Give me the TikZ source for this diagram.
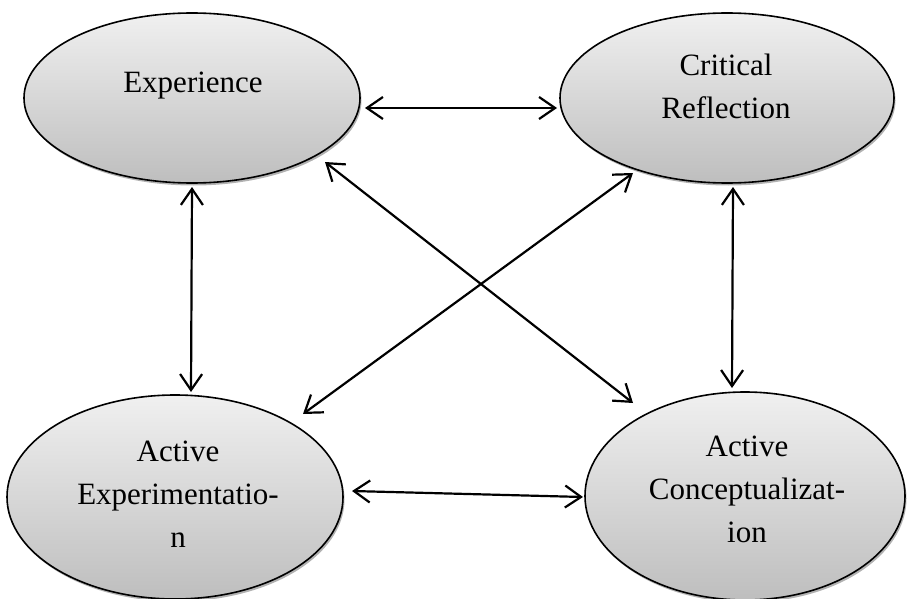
\documentclass[tikz,border=0pt]{standalone}
\usepackage{fontspec}
\setmainfont{Liberation Serif}
\usetikzlibrary{arrows.meta,shapes.geometric,shadows}
\definecolor{topgray}{RGB}{240,240,240}
\definecolor{botgray}{RGB}{190,190,190}
\begin{document}
\begin{tikzpicture}[x=1pt,y=-1pt,
  blob/.style={ellipse,draw=black,line width=1.6pt,inner sep=0pt,outer sep=0pt,
    top color=topgray,bottom color=botgray,
    drop shadow={shadow xshift=1.5pt,shadow yshift=-2.5pt,fill=black,opacity=0.3}},
  lbl/.style={align=center,anchor=base,font=\fontsize{31}{43}\selectfont},
  link/.style={line width=2.2pt,{Straight Barb[length=16pt,width=22pt]}-{Straight Barb[length=16pt,width=22pt]}}]
\useasboundingbox (0,0) rectangle (907,599);
\clip (0,0) rectangle (907,599);
% ellipses
\node[blob,minimum width=336pt,minimum height=170pt] (exp) at (192,98) {};
\node[blob,minimum width=334pt,minimum height=170pt] (crit) at (727,98) {};
\node[blob,minimum width=336pt,minimum height=204pt] (actexp) at (175,497) {};
\node[blob,minimum width=320pt,minimum height=208pt] (actconc) at (745,496) {};
% texts (base = baseline of the last line)
\node[lbl] (expT) at (193,93) {Experience};
\node[lbl] (critT) at (726,118) {Critical\\Reflection};
\node[lbl] (actexpT) at (178,547) {Active\\Experimentatio-\\n};
\node[lbl] (actconcT) at (747,542) {Active\\Conceptualizat-\\ion};
% connectors
\draw[link] ([xshift=5pt,yshift=-10pt]exp.east) -- ([xshift=-3pt,yshift=-10pt]crit.west);
\draw[link] ([xshift=0pt,yshift=-4pt]exp.south) -- ([xshift=16pt,yshift=3pt]actexp.north);
\draw[link] ([xshift=6pt,yshift=-4pt]crit.south) -- ([xshift=-13pt,yshift=4pt]actconc.north);
\draw[link] ([xshift=9pt,yshift=6pt]actexp.east) -- ([xshift=-2pt,yshift=-1pt]actconc.west);
\draw[link] ([xshift=133pt,yshift=-64pt]exp.center) -- ([xshift=-112pt,yshift=93pt]actconc.center);
\draw[link] ([xshift=-94pt,yshift=-75pt]crit.center) -- ([xshift=128pt,yshift=83pt]actexp.center);
\end{tikzpicture}
\end{document}
